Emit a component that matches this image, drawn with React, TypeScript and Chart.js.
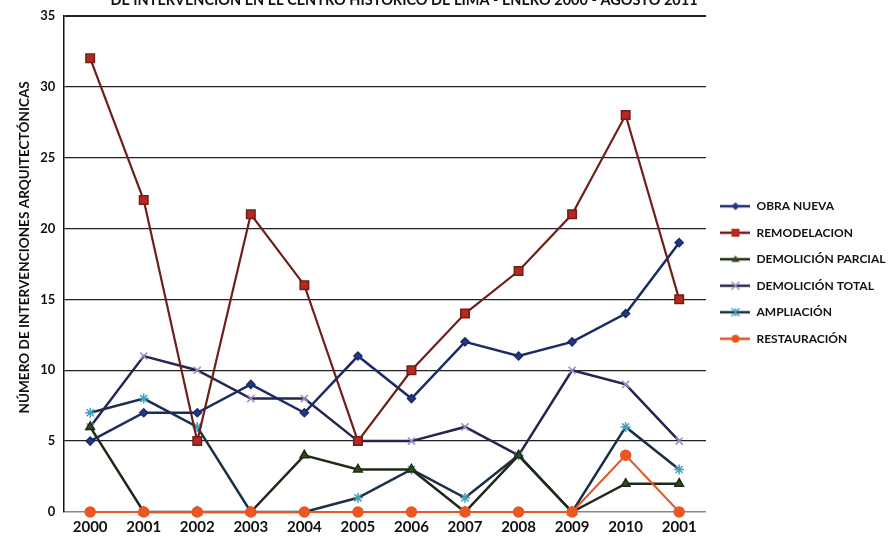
import React, { useEffect, useRef } from 'react';
import { Chart, registerables } from 'chart.js';

Chart.register(...registerables);

const years = ['2000', '2001', '2002', '2003', '2004', '2005', '2006', '2007', '2008', '2009', '2010', '2001'];
const obraNueva = [5, 7, 7, 9, 7, 11, 8, 12, 11, 12, 14, 19];
const remodelacion = [32, 22, 5, 21, 16, 5, 10, 14, 17, 21, 28, 15];
const demolicionParcial = [6, 0, 0, 0, 4, 3, 3, 0, 4, 0, 2, 2];
const demolicionTotal = [6, 11, 10, 8, 8, 5, 5, 6, 4, 10, 9, 5];
const ampliacion = [7, 8, 6, 0, 0, 1, 3, 1, 4, 0, 6, 3];
const restauracion = [0, 0, 0, 0, 0, 0, 0, 0, 0, 0, 4, 0];
const seriesNames = ['OBRA NUEVA', 'REMODELACION', 'DEMOLICIÓN PARCIAL', 'DEMOLICIÓN TOTAL', 'AMPLIACIÓN', 'RESTAURACIÓN'];
const titleText = 'DE INTERVENCIÓN EN EL CENTRO HISTÓRICO DE LIMA - ENERO 2000 - AGOSTO 2011';
const yTitle = '          NÚMERO DE INTERVENCIONES ARQUITECTÓNICAS';

const FONT = 'Lato, "Open Sans", sans-serif';

type Sty = { line: string; fill: string; stroke: string; pt: any; r: number; w: number };
const styles: Sty[] = [
  { line: '#1c2b66', fill: '#1f3a8a', stroke: '#1c2b66', pt: 'rectRot', r: 4, w: 2.5 },
  { line: '#6e1f1a', fill: '#b8281e', stroke: '#6e1f1a', pt: 'rect', r: 6, w: 2.2 },
  { line: '#1f2a16', fill: '#2f4d1c', stroke: '#1f2a16', pt: 'triangle', r: 5, w: 2.5 },
  { line: '#25254f', fill: '#9a8cc0', stroke: '#9a8cc0', pt: 'crossRot', r: 5, w: 2.5 },
  { line: '#1b2f45', fill: '#45a0bb', stroke: '#45a0bb', pt: 'star', r: 5, w: 2.5 },
  { line: '#e4572a', fill: '#f0561c', stroke: '#e4572a', pt: 'circle', r: 5, w: 2 },
];

function makeIcon(s: Sty): HTMLCanvasElement {
  const c = document.createElement('canvas');
  c.width = 30;
  c.height = 14;
  const ctx = c.getContext('2d')!;
  ctx.strokeStyle = s.line;
  ctx.lineWidth = 2.5;
  ctx.beginPath();
  ctx.moveTo(0, 7);
  ctx.lineTo(30, 7);
  ctx.stroke();
  ctx.fillStyle = s.fill;
  ctx.strokeStyle = s.stroke;
  ctx.lineWidth = 1.5;
  const x = 15, y = 7, r = 4;
  ctx.beginPath();
  if (s.pt === 'rectRot') {
    ctx.moveTo(x, y - r); ctx.lineTo(x + r, y); ctx.lineTo(x, y + r); ctx.lineTo(x - r, y); ctx.closePath(); ctx.fill();
  } else if (s.pt === 'rect') {
    ctx.rect(x - r, y - r, 2 * r, 2 * r); ctx.fill();
  } else if (s.pt === 'triangle') {
    ctx.moveTo(x, y - r); ctx.lineTo(x + r, y + r * 0.7); ctx.lineTo(x - r, y + r * 0.7); ctx.closePath(); ctx.fill();
  } else if (s.pt === 'crossRot') {
    ctx.moveTo(x - r, y - r); ctx.lineTo(x + r, y + r); ctx.moveTo(x + r, y - r); ctx.lineTo(x - r, y + r); ctx.stroke();
  } else if (s.pt === 'star') {
    ctx.moveTo(x - r, y - r); ctx.lineTo(x + r, y + r); ctx.moveTo(x + r, y - r); ctx.lineTo(x - r, y + r);
    ctx.moveTo(x, y - r); ctx.lineTo(x, y + r); ctx.stroke();
  } else {
    ctx.arc(x, y, r, 0, Math.PI * 2); ctx.fill();
  }
  return c;
}

const cutTitle = {
  id: 'cutTitle',
  afterDraw(chart: any) {
    const ctx = chart.ctx;
    ctx.save();
    ctx.font = `bold 14.5px ${FONT}`;
    ctx.fillStyle = '#111';
    ctx.textAlign = 'center';
    ctx.textBaseline = 'alphabetic';
    ctx.fillText(titleText, 404, 5);
    ctx.restore();
  },
};

export default function App() {
  const ref = useRef<HTMLCanvasElement>(null);
  useEffect(() => {
    const values = [obraNueva, remodelacion, demolicionParcial, demolicionTotal, ampliacion, restauracion];
    const icons = styles.map(makeIcon);
    const chart = new Chart(ref.current!, {
      type: 'line',
      data: {
        labels: years,
        datasets: values.map((v, i) => ({
          label: seriesNames[i],
          data: v,
          borderColor: styles[i].line,
          borderWidth: styles[i].w,
          backgroundColor: styles[i].fill,
          pointStyle: styles[i].pt,
          pointRadius: styles[i].r,
          pointBackgroundColor: styles[i].fill,
          pointBorderColor: styles[i].stroke,
          pointBorderWidth: 1.5,
          tension: 0,
          fill: false,
          clip: false as any,
          order: i === 5 ? -1 : i,
        })),
      },
      options: {
        animation: false,
        responsive: false,
        layout: { padding: { top: 3, left: 16, right: 4.5, bottom: 0 } },
        plugins: {
          title: { display: false },
          tooltip: { enabled: false },
          legend: {
            position: 'right',
            labels: {
              usePointStyle: true,
              pointStyleWidth: 30,
              padding: 14.5,
              color: '#111',
              font: { family: FONT, size: 12, weight: 'bold' },
              sort: (a: any, b: any) => a.datasetIndex - b.datasetIndex,
              generateLabels: (c: any) => {
                const items = (Chart.defaults.plugins.legend.labels as any).generateLabels(c);
                return items.map((it: any) => ({ ...it, pointStyle: icons[it.datasetIndex] }));
              },
            },
          },
        },
        scales: {
          x: {
            offset: true,
            grid: { display: false, drawTicks: false },
            border: { color: '#888', width: 1.5 },
            ticks: { color: '#111', padding: 6, font: { family: FONT, size: 15, weight: 'bold' }, maxRotation: 0, autoSkip: false },
          },
          y: {
            min: 0,
            max: 35,
            ticks: { stepSize: 5, color: '#111', padding: 8, font: { family: FONT, size: 13, weight: 'bold' } },
            grid: {
              drawTicks: false,
              color: (ctx: any) => (ctx.tick && ctx.tick.value === 0 ? 'rgba(0,0,0,0)' : '#222'),
              lineWidth: (ctx: any) => (ctx.tick && ctx.tick.value === 35 ? 2 : 1.3),
            },
            border: { color: '#111', width: 1.5 },
            title: { display: true, text: yTitle, color: '#111', padding: { top: 0, bottom: 0 }, font: { family: FONT, size: 13.6, weight: 'bold' } },
          },
        },
      },
      plugins: [cutTitle],
    });
    return () => chart.destroy();
  }, []);
  return (
    <div style={{ position: 'fixed', left: 0, top: 0, width: 888, height: 542, overflow: 'hidden', background: '#fff' }}>
      <canvas ref={ref} width={900} height={542} />
    </div>
  );
}
